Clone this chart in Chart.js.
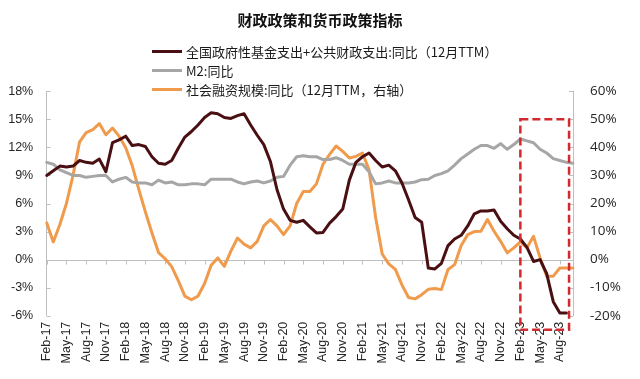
<!DOCTYPE html>
<html><head><meta charset="utf-8">
<script src="https://cdn.jsdelivr.net/npm/chart.js@4.4.0/dist/chart.umd.min.js"></script>
<style>
html,body{margin:0;padding:0;background:#fff;}
#wrap{position:relative;width:640px;height:379px;}
#legend{position:absolute;left:152px;top:42px;font:13px "Noto Sans CJK SC",sans-serif;color:#1a1a1a;}
.li{display:flex;align-items:center;height:19px;white-space:nowrap;}
.sw{width:30px;height:3px;margin-right:4px;}
</style></head><body>
<div id="wrap"><canvas id="c" width="640" height="379"></canvas><div id="legend"></div></div>
<script>
// ---- categories (monthly, Feb-17 .. Oct-23) ----
const monthNames = ['Jan','Feb','Mar','Apr','May','Jun','Jul','Aug','Sep','Oct','Nov','Dec'];
const categories = [];
for (let k = 0; k < 81; k++) {
  const m = (1 + k) % 12, yr = 17 + Math.floor((1 + k) / 12);
  categories.push(monthNames[m] + '-' + yr);
}
// ---- series (%) ----
const fiscalGrowth = [9.0,9.5,10.0,9.9,10.0,10.6,10.4,10.3,10.75,9.4,
12.5,12.8,13.2,12.2,12.3,12.1,11.0,10.3,10.2,10.6,
11.9,13.1,13.7,14.4,15.2,15.7,15.6,15.2,15.1,15.4,
15.6,14.4,13.3,12.3,10.5,7.5,5.4,4.2,4.0,4.2,
3.5,2.85,2.9,3.9,4.6,5.4,8.5,10.4,11.0,11.4,
10.6,9.9,10.1,9.5,8.2,6.4,4.5,4.0,-0.9,-1.0,
-0.4,1.5,2.2,2.6,3.6,4.9,5.2,5.2,5.3,4.1,
3.3,2.6,2.2,1.3,-0.2,0.0,-1.5,-4.5,-5.7,-5.7,null];
const m2Growth = [10.4,10.2,9.6,9.3,9.0,9.0,8.8,8.9,9.0,9.0,
8.3,8.6,8.8,8.3,8.2,8.2,8.0,8.5,8.2,8.3,
8.0,8.0,8.1,8.1,8.0,8.6,8.6,8.6,8.6,8.3,
8.1,8.3,8.4,8.2,8.4,8.8,8.9,10.1,11.0,11.1,
11.0,11.0,10.7,10.7,10.9,10.6,10.2,10.2,10.2,9.4,
8.1,8.2,8.4,8.2,8.2,8.2,8.3,8.55,8.6,9.0,
9.2,9.5,10.1,10.8,11.3,11.8,12.2,12.2,11.9,12.4,
11.8,12.3,12.9,12.7,12.5,11.8,11.4,10.8,10.6,10.4,10.3];
const tsfGrowth = [13.1,6.3,12.5,20,30,42,45.3,46.3,48.5,44.5,
46.9,44.0,40,33.5,25,17,9.5,2.5,0.3,-2.5,
-7.5,-13,-14.3,-13,-8.5,-2,0.6,-2.4,3,7.7,
5.5,4.2,6.5,12,14.3,12,8.9,12,20,24.3,
24.3,27,34,37.5,40.5,38.6,36.2,36.8,38,32,
15,2,-1.5,-3.5,-9,-13.5,-14,-12.5,-10.6,-10.3,
-10.7,-3.5,-1.8,5,8.9,10,10.1,14.3,10.1,6.5,
2.4,4.2,6.3,4.2,8.3,0.6,-5.9,-5.9,-3,-3,-3];
const seriesNames = ['全国政府性基金支出+公共财政支出:同比（12月TTM）','M2:同比','社会融资规模:同比（12月TTM，右轴）'];
const chartTitle = '财政政策和货币政策指标';
const leftAxis = {min:-6, max:18, step:3};
const rightAxis = {min:-20, max:60, step:10};
// highlight box (categories and right-axis values)
const boxFrom = 'Feb-23', boxTo = 'Sep-23', boxTop = 50, boxBottom = -25;

const GRAY_AX = '#bfbfbf';
const decor = {
  id:'decor',
  beforeDatasetsDraw(chart){
    const {ctx, chartArea:a, scales:{x,y,y1}} = chart;
    ctx.save();
    ctx.strokeStyle = GRAY_AX; ctx.lineWidth = 1;
    ctx.beginPath();
    const y0 = Math.round(y.getPixelForValue(0)) + 0.5;
    ctx.moveTo(a.left, y0); ctx.lineTo(a.right, y0);
    categories.forEach((c,i)=>{ if (i % 3 === 0) { const px = Math.round(x.getPixelForValue(i)) + 0.5; ctx.moveTo(px, y0); ctx.lineTo(px, y0 + 4); } });
    y.ticks.forEach(t=>{ const py = Math.round(y.getPixelForValue(t.value)) + 0.5; ctx.moveTo(a.left, py); ctx.lineTo(a.left + 4, py); });
    y1.ticks.forEach(t=>{ const py = Math.round(y1.getPixelForValue(t.value)) + 0.5; ctx.moveTo(a.right - 4, py); ctx.lineTo(a.right, py); });
    ctx.stroke();
    ctx.restore();
  },
  afterDatasetsDraw(chart){
    const {ctx, scales:{x,y1}} = chart;
    const l = x.getPixelForValue(categories.indexOf(boxFrom));
    const r = x.getPixelForValue(categories.indexOf(boxTo) + 0.4);
    const t = y1.getPixelForValue(boxTop), b = y1.getPixelForValue(boxBottom);
    ctx.save();
    ctx.strokeStyle = '#d2292f'; ctx.lineWidth = 2.5; ctx.setLineDash([8,4]);
    ctx.strokeRect(l, t, r - l, b - t);
    ctx.restore();
  }
};
const htmlLegend = {
  id:'htmlLegend',
  afterUpdate(chart){
    const box = document.getElementById('legend');
    box.innerHTML = '';
    chart.data.datasets.forEach(ds=>{
      const row = document.createElement('div'); row.className = 'li';
      const sw = document.createElement('span'); sw.className = 'sw'; sw.style.background = ds.borderColor;
      const tx = document.createElement('span'); tx.textContent = ds.label;
      row.appendChild(sw); row.appendChild(tx); box.appendChild(row);
    });
  }
};
const tickFont = {family:'"Liberation Sans", Arial, sans-serif', size:12.5};
new Chart(document.getElementById('c'), {
  type:'line',
  data:{
    labels:categories,
    datasets:[
      {label:seriesNames[0], data:fiscalGrowth, borderColor:'#4a0f12', yAxisID:'y'},
      {label:seriesNames[1], data:m2Growth, borderColor:'#a6a6a6', yAxisID:'y'},
      {label:seriesNames[2], data:tsfGrowth, borderColor:'#f09a4c', yAxisID:'y1'}
    ]
  },
  options:{
    responsive:false, animation:false, devicePixelRatio:1,
    layout:{padding:0},
    elements:{line:{borderWidth:3, tension:0, borderCapStyle:'round', borderJoinStyle:'round'}, point:{radius:0}},
    plugins:{
      legend:{display:false},
      tooltip:{enabled:false},
      title:{display:true, text:chartTitle, color:'#111', font:{family:'"Noto Sans CJK SC", sans-serif', size:15, weight:'bold', lineHeight:1.2}, padding:{top:11.7, bottom:61.6}}
    },
    scales:{
      x:{
        offset:false,
        grid:{display:false, drawTicks:false}, border:{display:false},
        ticks:{autoSkip:false, minRotation:90, maxRotation:90, padding:6, color:'#262626', font:tickFont,
          callback:(v,i)=> i % 3 === 0 ? categories[i] : ''},
        afterFit:s=>{ s.height = 63.3; }
      },
      y:{
        position:'left', min:leftAxis.min, max:leftAxis.max,
        grid:{display:false, drawTicks:false}, border:{display:true, color:GRAY_AX, width:1},
        ticks:{stepSize:leftAxis.step, padding:13.5, color:'#262626', font:tickFont, callback:v=>v+'%'},
        afterFit:s=>{ s.width = 46.7; }
      },
      y1:{
        position:'right', min:rightAxis.min, max:rightAxis.max,
        grid:{display:false, drawTicks:false}, border:{display:true, color:GRAY_AX, width:1},
        ticks:{stepSize:rightAxis.step, padding:17, color:'#262626', font:{family:'"Open Sans", sans-serif', size:13.5}, callback:v=>v+'%'},
        afterFit:s=>{ s.width = 67; }
      }
    }
  },
  plugins:[decor, htmlLegend]
});
</script>
</body></html>
